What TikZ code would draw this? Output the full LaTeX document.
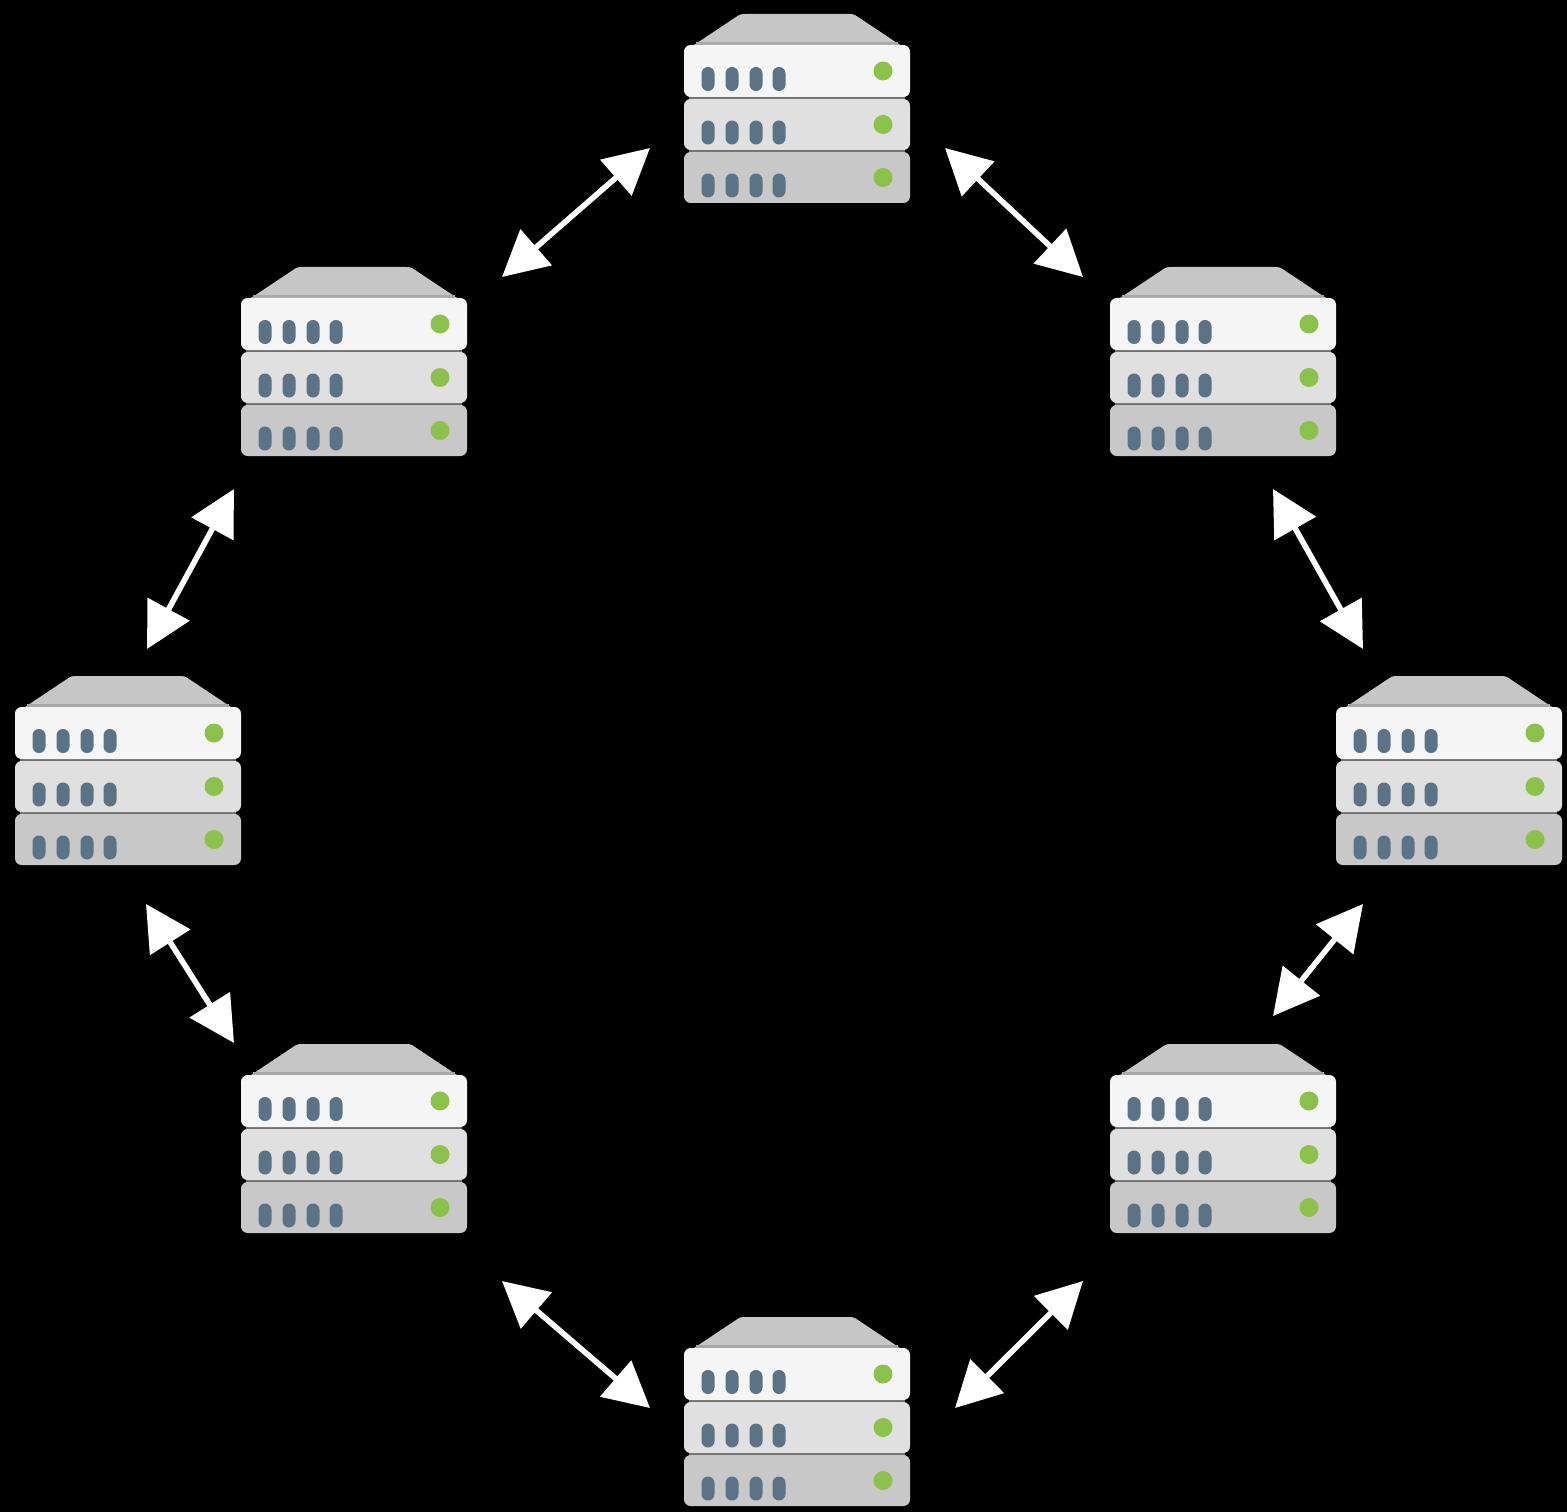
\documentclass[tikz,border=0pt]{standalone}
\usetikzlibrary{arrows.meta}
\definecolor{slabA}{HTML}{F5F5F5}
\definecolor{slabB}{HTML}{E0E0E0}
\definecolor{slabC}{HTML}{C8C8C8}
\definecolor{lidc}{HTML}{C6C6C6}
\definecolor{lidedge}{HTML}{A8A8A8}
\definecolor{gapc}{HTML}{6E6E6E}
\definecolor{portc}{HTML}{5B7386}
\definecolor{ledc}{HTML}{8BC34A}
\tikzset{
  x=0.75pt,y=-0.75pt,
  serverbox/.style={minimum width=169.5pt,minimum height=141.75pt,inner sep=0pt,outer sep=0pt,anchor=north west},
  slab/.style={rounded corners=5pt},
  portmark/.style={fill=portc,rounded corners=4.8pt},
  led/.style={fill=ledc},
  link/.style={draw=white,line width=4.2pt,{Triangle[length=34pt,width=35pt]}-{Triangle[length=34pt,width=35pt]}},
}
\newcommand{\slabrow}[3]{% colour, top y, bottom y
  \fill[#1,slab] (0,#2) rectangle (226,#3);
  \pgfmathsetmacro{\midy}{(#2+#3)/2}
  \pgfmathsetmacro{\porty}{\midy+8}
  \foreach \px in {24,48,72,95}{
    \fill[portmark] (\px-6.5,\porty-12) rectangle (\px+6.5,\porty+12);
  }
  \fill[led] (199,\midy) circle (9.5);
}
\newcommand{\server}[3]{% name, x, y
  \node[serverbox] (#1) at (#2,#3) {};
  \begin{scope}[shift={(#2,#3)}]
    \fill[lidc] (10,31) -- (52,3) .. controls (56,0) and (58,0) .. (62,0) -- (164,0) .. controls (168,0) and (170,0) .. (174,3) -- (216,31) -- cycle;
    \fill[lidedge] (12,28) rectangle (214,33);
    \fill[gapc] (5,81) rectangle (221,87);
    \fill[gapc] (5,134) rectangle (221,140);
    \slabrow{slabA}{31}{83}
    \slabrow{slabB}{85}{136}
    \slabrow{slabC}{138}{189}
  \end{scope}
}
\begin{document}
\begin{tikzpicture}
\path[use as bounding box,fill=black] (0,0) rectangle (1567,1512);
\server{top}{684}{14}
\server{nw}{241}{267}
\server{ne}{1110}{267}
\server{west}{15}{676}
\server{east}{1336}{676}
\server{sw}{241}{1044}
\server{se}{1110}{1044}
\server{bottom}{684}{1317}
\coordinate (a1) at (650,148); \coordinate (b1) at (502,277);
\coordinate (a2) at (945,148); \coordinate (b2) at (1083,277);
\coordinate (a3) at (234,489); \coordinate (b3) at (147,649);
\coordinate (a4) at (1273,489); \coordinate (b4) at (1363,649);
\coordinate (a5) at (146,904); \coordinate (b5) at (234,1043);
\coordinate (a6) at (1363,904); \coordinate (b6) at (1273,1016);
\coordinate (a7) at (502,1281); \coordinate (b7) at (650,1408);
\coordinate (a8) at (1083,1281); \coordinate (b8) at (955,1408);
\foreach \i in {1,...,8}{ \draw[link] (a\i) -- (b\i); }
\end{tikzpicture}
\end{document}
